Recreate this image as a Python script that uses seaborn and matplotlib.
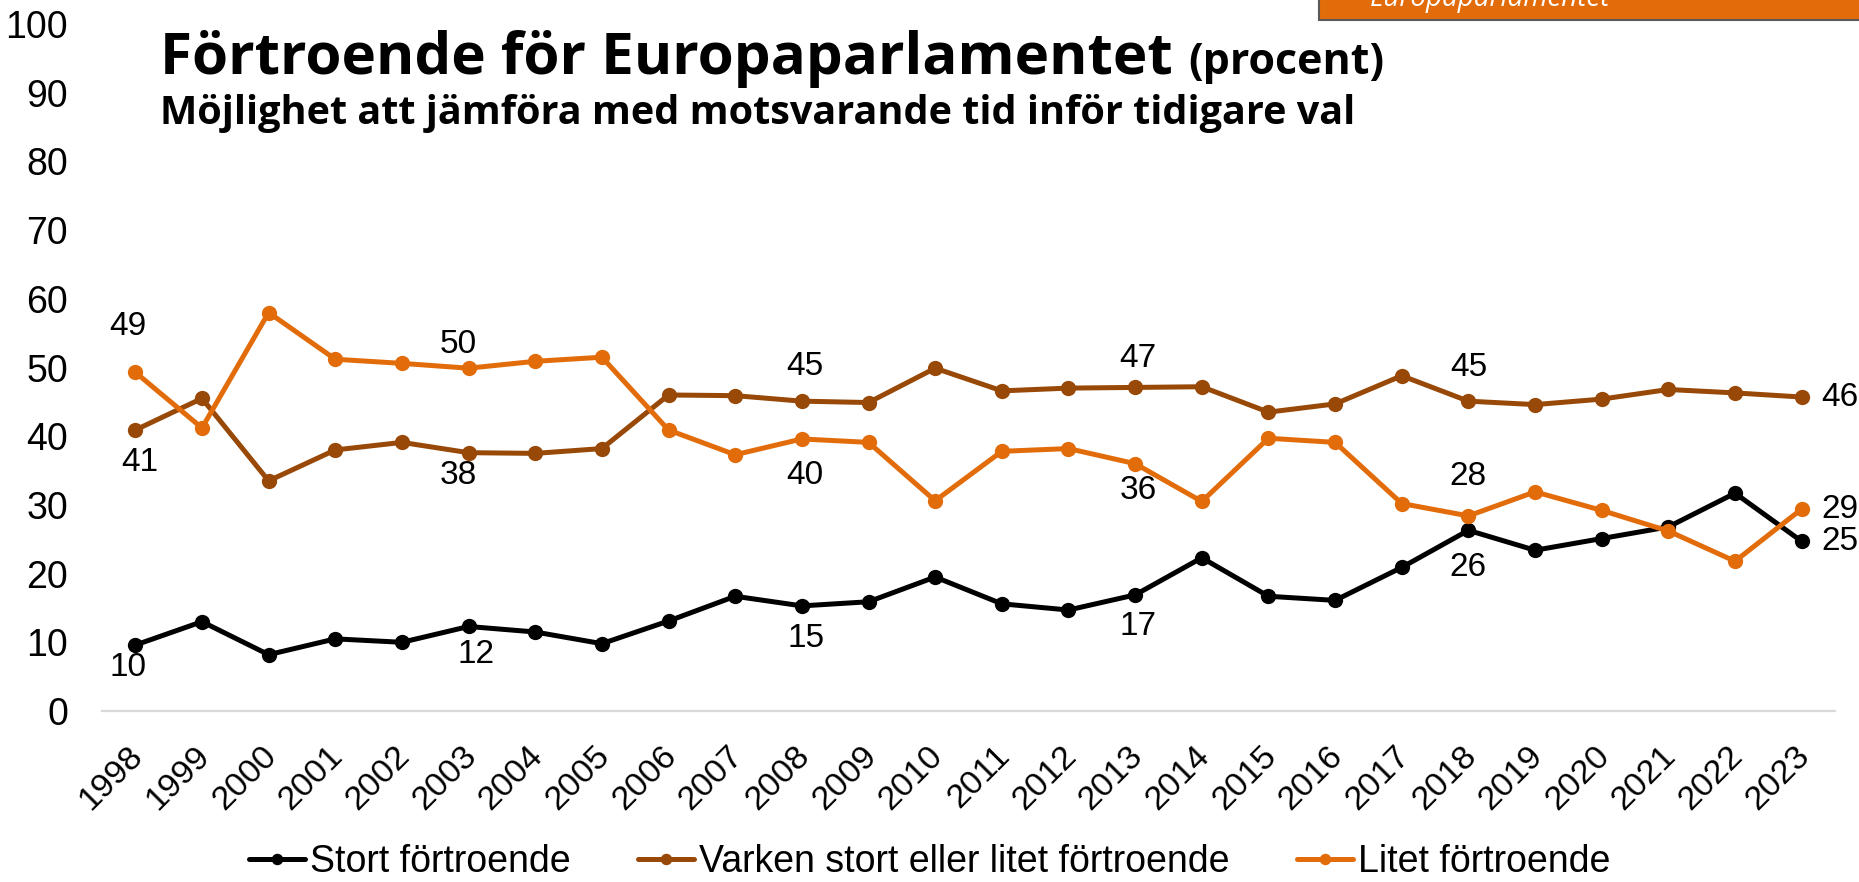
import matplotlib
matplotlib.use("Agg")
import matplotlib.pyplot as plt
import matplotlib.transforms as mtransforms
from matplotlib.patches import Rectangle
import seaborn as sns

# data (percent)
years = list(range(1998, 2024))
stort = [9.6, 13.0, 8.2, 10.5, 10.0, 12.3, 11.5, 9.8, 13.1, 16.7, 15.3, 15.9, 19.5,
         15.6, 14.7, 16.9, 22.3, 16.7, 16.1, 20.9, 26.3, 23.4, 25.1, 26.8, 31.7, 24.7]
varken = [40.9, 45.5, 33.5, 38.0, 39.1, 37.6, 37.5, 38.2, 46.0, 45.9, 45.1, 44.9, 49.9,
          46.6, 47.0, 47.1, 47.2, 43.5, 44.7, 48.8, 45.1, 44.6, 45.4, 46.8, 46.3, 45.7]
litet = [49.3, 41.2, 58.0, 51.2, 50.6, 49.9, 50.9, 51.5, 40.9, 37.3, 39.6, 39.1, 30.6,
         37.8, 38.2, 36.0, 30.5, 39.7, 39.1, 30.2, 28.4, 31.9, 29.2, 26.2, 21.8, 29.4]
series_names = ["Stort förtroende", "Varken stort eller litet förtroende", "Litet förtroende"]
labelled_years = [1998, 2003, 2008, 2013, 2018, 2023]

title = "Förtroende för Europaparlamentet"
title_unit = "(procent)"
subtitle = "Möjlighet att jämföra med motsvarande tid inför tidigare val"
tab_text = "Europaparlamentet"

colors = ["#000000", "#984807", "#E36C0A"]

# label offsets in pixels (dx, dy with dy downwards), per series, per labelled year
label_offsets = [
    [(-7, 22), (7, 28), (4, 33), (3, 32), (0, 37), (38, 0)],
    [(4, 32), (-10, 23), (3, -35), (3, -29), (0, -34), (38, 0)],
    [(-7, -46), (-10, -24), (3, 37), (3, 27), (0, -39), (38, 0)],
]

W, H = 1859, 882


def fx(px):
    return px / W


def fy(py):
    return 1 - py / H


def main():
    sns.set_style("white")
    plt.rcParams["font.family"] = ["Liberation Sans", "DejaVu Sans"]
    plt.rcParams["text.color"] = "black"
    plt.rcParams["xtick.color"] = "black"
    plt.rcParams["ytick.color"] = "black"

    fig = plt.figure(figsize=(W / 100, H / 100), dpi=100)
    ax = fig.add_axes([fx(102), fy(711), (1835 - 102) / W, 687 / H])

    for name, vals, col in zip(series_names, [stort, varken, litet], colors):
        sns.lineplot(x=years, y=vals, color=col, marker="o", markersize=11,
                     markeredgewidth=0, linewidth=3.6, label=name, ax=ax)

    # data labels
    for vals, col, offs in zip([stort, varken, litet], colors, label_offsets):
        for yr, (dx, dy) in zip(labelled_years, offs):
            v = vals[years.index(yr)]
            ax.annotate(f"{v:.0f}", xy=(yr, v), xytext=(dx, -dy),
                        textcoords="offset pixels", ha="center", va="center",
                        fontsize=24, color="black")

    ax.set_xlim(1997.5, 2023.5)
    ax.set_ylim(0, 100)
    ax.set_yticks(range(0, 101, 10))
    ax.set_xticks(years)
    ax.set_xticklabels([str(y) for y in years], rotation=45, ha="right",
                       va="center", rotation_mode="anchor")
    ax.tick_params(axis="y", length=0, pad=24.5, labelsize=27)
    ax.tick_params(axis="x", length=0, pad=29, labelsize=24.5)
    shift = mtransforms.ScaledTranslation(3 / 100, 0, fig.dpi_scale_trans)
    for lab in ax.get_xticklabels():
        lab.set_transform(lab.get_transform() + shift)
    ax.set_xlabel("")
    ax.set_ylabel("")
    ax.grid(False)
    for side in ["top", "right", "left"]:
        ax.spines[side].set_visible(False)
    ax.spines["bottom"].set_color("#D9D9D9")
    ax.spines["bottom"].set_linewidth(1.6)

    handles, labels = ax.get_legend_handles_labels()
    ax.legend(handles, labels, loc="center", bbox_to_anchor=(0.5, fy(862)),
              bbox_transform=fig.transFigure, ncol=3, frameon=False, fontsize=27,
              handlelength=1.5, handletextpad=0.12, columnspacing=1.8,
              markerscale=0.75, borderaxespad=0, borderpad=0)

    # titles
    fig.text(fx(160), fy(74), title, fontsize=42, fontweight="bold",
             family=["Open Sans", "DejaVu Sans"], va="baseline")
    fig.text(fx(1188), fy(74), title_unit, fontsize=31, fontweight="bold",
             family=["Open Sans", "DejaVu Sans"], va="baseline")
    fig.text(fx(160), fy(124), subtitle, fontsize=28.5, fontweight="bold",
             family=["Open Sans", "DejaVu Sans"], va="baseline")

    # orange tab cut off at the top right
    fig.patches.append(Rectangle((fx(1319), fy(20)), (W - 1319) / W + 0.01, 20 / H + 0.01,
                                 transform=fig.transFigure, facecolor="#E36C0A",
                                 edgecolor="#595959", linewidth=1.5))
    fig.text(fx(1370), fy(6), tab_text, fontsize=20, style="italic", color="white",
             family=["Open Sans", "DejaVu Sans"], va="baseline")

    fig.savefig("out.png", dpi=100)


if __name__ == "__main__":
    main()
